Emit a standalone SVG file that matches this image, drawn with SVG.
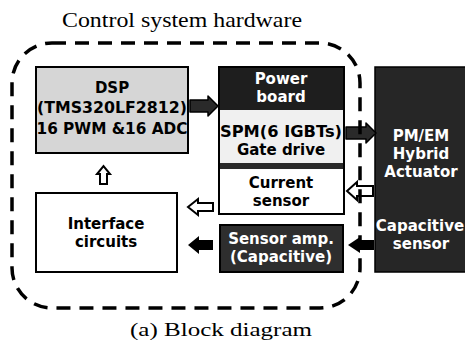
<svg xmlns="http://www.w3.org/2000/svg" width="465" height="343" viewBox="0 0 465 343">
<style>
.serif{font-family:"Liberation Serif","Times New Roman",serif;fill:#000}
.b{font-family:"DejaVu Sans",Verdana,sans-serif;font-weight:bold;font-size:15px;text-anchor:middle}
.w{fill:#fff}
.k{fill:#000}
.box{stroke:#000;stroke-width:2}
.dark{fill:#2a2a2a;stroke:#000;stroke-width:1.5;stroke-linejoin:round}
.hollow{fill:#fff;stroke:#000;stroke-width:2;stroke-linejoin:miter}
</style>
<rect width="465" height="343" fill="#fff"/>
<text class="serif" x="62" y="27" font-size="22" textLength="240" lengthAdjust="spacingAndGlyphs">Control system hardware</text>

<g id="dsp">
<rect class="box" x="36" y="67" width="152" height="86" fill="#d6d6d6"/>
<text class="b k" x="112" y="93" font-size="16">DSP</text>
<text class="b k" x="112" y="113" textLength="150" lengthAdjust="spacingAndGlyphs">(TMS320LF2812)</text>
<text class="b k" x="112" y="134" textLength="151" lengthAdjust="spacingAndGlyphs">16 PWM &amp;16 ADC</text>
</g>

<g id="power">
<rect x="219" y="67" width="125" height="147" fill="#fff"/>
<rect x="219" y="67" width="125" height="43" fill="#1e1e1e"/>
<rect x="220" y="110" width="123" height="53" fill="#f0f0f0"/>
<rect x="219" y="163" width="125" height="6" fill="#2a2a2a"/>
<rect x="219" y="67" width="125" height="147" fill="none" stroke="#000" stroke-width="2"/>
<text class="b w" x="281" y="84">Power</text>
<text class="b w" x="281" y="102">board</text>
<text class="b k" x="281" y="137" textLength="122" lengthAdjust="spacingAndGlyphs">SPM(6 IGBTs)</text>
<text class="b k" x="281" y="155">Gate drive</text>
<text class="b k" x="281" y="188">Current</text>
<text class="b k" x="281" y="206">sensor</text>
</g>

<g id="interface">
<rect class="box" x="36" y="193" width="141" height="79" fill="#fff"/>
<text class="b k" x="106" y="229">Interface</text>
<text class="b k" x="106" y="247">circuits</text>
</g>

<g id="sensoramp">
<rect class="box" x="220" y="225" width="123" height="47" fill="#2e2e2e"/>
<text class="b w" x="281" y="244">Sensor amp.</text>
<text class="b w" x="281" y="262">(Capacitive)</text>
</g>

<g id="actuator">
<rect x="375" y="67" width="92" height="205" fill="#262626" stroke="#000" stroke-width="1.5"/>
<text class="b w" x="421" y="141">PM/EM</text>
<text class="b w" x="421" y="159">Hybrid</text>
<text class="b w" x="421" y="177">Actuator</text>
<text class="b w" x="420" y="231" font-size="14">Capacitive</text>
<text class="b w" x="421" y="249">sensor</text>
</g>

<g id="connectors">
<polygon class="dark" points="190,100 208,100 208,96 218,106 208,116 208,112 190,112"/>
<polygon class="dark" points="346,127 366,127 366,123 376,133 366,143 366,139 346,139"/>
<polygon class="hollow" points="373,186 357,186 357,182 347,191 357,200 357,196 373,196"/>
<polygon class="hollow" points="213,203 198,203 198,199 188,207 198,215 198,211 213,211"/>
<polygon points="213,240 199,240 199,236 188,245 199,254 199,250 213,250" fill="#000"/>
<polygon points="374,240 360,240 360,237 348,245 360,253 360,250 374,250" fill="#000"/>
<polygon class="hollow" points="100,184 100,174 97,174 103.5,166 110,174 107,174 107,184"/>
</g>

<rect x="12" y="43" width="348" height="265" rx="40" ry="40" fill="none" stroke="#000" stroke-width="3.5" stroke-dasharray="14 9"/>

<text class="serif" x="130" y="336" font-size="18" textLength="182" lengthAdjust="spacingAndGlyphs">(a) Block diagram</text>
</svg>
